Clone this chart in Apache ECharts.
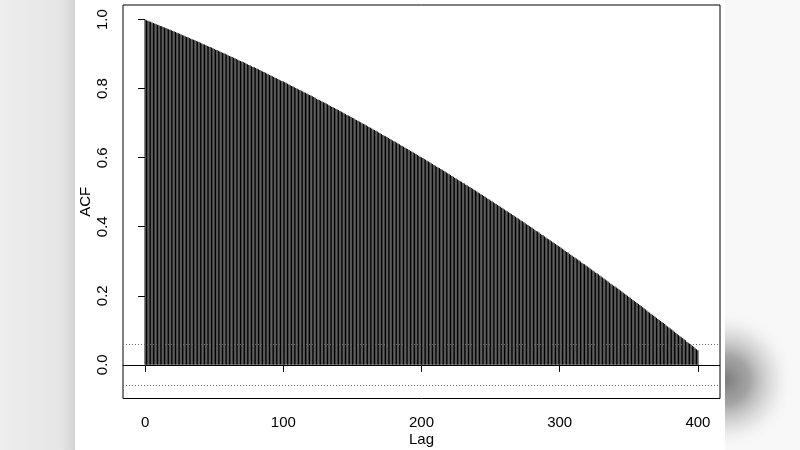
<!DOCTYPE html>
<html>
<head>
<meta charset="utf-8">
<script src="https://cdn.jsdelivr.net/npm/echarts@6/dist/echarts.min.js"></script>
<style>
html,body{margin:0;padding:0;background:#fff;}
#chart{width:800px;height:450px;}
</style>
</head>
<body>
<div id="chart"></div>
<script>
// ACF values by lag (lag = position in the list, starting at 0)
var acfLags0to99 = [
1.000,0.998,0.997,0.995,0.994,0.992,0.990,0.989,0.987,0.985,
0.984,0.982,0.981,0.979,0.977,0.976,0.974,0.972,0.971,0.969,
0.967,0.966,0.964,0.962,0.961,0.959,0.957,0.955,0.954,0.952,
0.950,0.949,0.947,0.945,0.943,0.942,0.940,0.938,0.937,0.935,
0.933,0.931,0.929,0.928,0.926,0.924,0.922,0.921,0.919,0.917,
0.915,0.913,0.912,0.910,0.908,0.906,0.904,0.903,0.901,0.899,
0.897,0.895,0.893,0.892,0.890,0.888,0.886,0.884,0.882,0.880,
0.879,0.877,0.875,0.873,0.871,0.869,0.867,0.865,0.863,0.862,
0.860,0.858,0.856,0.854,0.852,0.850,0.848,0.846,0.844,0.842,
0.840,0.838,0.836,0.834,0.832,0.830,0.828,0.826,0.824,0.822];
var acfLags100to199 = [
0.821,0.819,0.817,0.814,0.812,0.810,0.808,0.806,0.804,0.802,
0.800,0.798,0.796,0.794,0.792,0.790,0.788,0.786,0.784,0.782,
0.780,0.778,0.776,0.774,0.771,0.769,0.767,0.765,0.763,0.761,
0.759,0.757,0.755,0.752,0.750,0.748,0.746,0.744,0.742,0.740,
0.738,0.735,0.733,0.731,0.729,0.727,0.724,0.722,0.720,0.718,
0.716,0.714,0.711,0.709,0.707,0.705,0.703,0.700,0.698,0.696,
0.694,0.691,0.689,0.687,0.685,0.682,0.680,0.678,0.676,0.673,
0.671,0.669,0.666,0.664,0.662,0.660,0.657,0.655,0.653,0.650,
0.648,0.646,0.643,0.641,0.639,0.636,0.634,0.632,0.629,0.627,
0.625,0.622,0.620,0.618,0.615,0.613,0.611,0.608,0.606,0.603];
var acfLags200to299 = [
0.601,0.599,0.596,0.594,0.591,0.589,0.587,0.584,0.582,0.579,
0.577,0.574,0.572,0.570,0.567,0.565,0.562,0.560,0.557,0.555,
0.552,0.550,0.547,0.545,0.542,0.540,0.537,0.535,0.532,0.530,
0.527,0.525,0.522,0.520,0.517,0.515,0.512,0.510,0.507,0.505,
0.502,0.499,0.497,0.494,0.492,0.489,0.487,0.484,0.481,0.479,
0.476,0.474,0.471,0.468,0.466,0.463,0.461,0.458,0.455,0.453,
0.450,0.447,0.445,0.442,0.440,0.437,0.434,0.432,0.429,0.426,
0.424,0.421,0.418,0.416,0.413,0.410,0.407,0.405,0.402,0.399,
0.397,0.394,0.391,0.388,0.386,0.383,0.380,0.377,0.375,0.372,
0.369,0.366,0.364,0.361,0.358,0.355,0.353,0.350,0.347,0.344];
var acfLags300to400 = [
0.342,0.339,0.336,0.333,0.330,0.327,0.325,0.322,0.319,0.316,
0.313,0.311,0.308,0.305,0.302,0.299,0.296,0.293,0.291,0.288,
0.285,0.282,0.279,0.276,0.273,0.270,0.267,0.265,0.262,0.259,
0.256,0.253,0.250,0.247,0.244,0.241,0.238,0.235,0.232,0.229,
0.227,0.224,0.221,0.218,0.215,0.212,0.209,0.206,0.203,0.200,
0.197,0.194,0.191,0.188,0.185,0.182,0.179,0.176,0.173,0.170,
0.167,0.164,0.161,0.157,0.154,0.151,0.148,0.145,0.142,0.139,
0.136,0.133,0.130,0.127,0.124,0.121,0.118,0.114,0.111,0.108,
0.105,0.102,0.099,0.096,0.093,0.089,0.086,0.083,0.080,0.077,
0.074,0.071,0.067,0.064,0.061,0.058,0.055,0.052,0.048,0.045,
0.042];
var ciBounds = [0.0555, -0.0555];
var xTickValues = [0, 100, 200, 300, 400];
var yTickValues = [0, 0.2, 0.4, 0.6, 0.8, 1.0];
var xTitle = 'Lag';
var yTitle = 'ACF';

var acfValues = acfLags0to99.concat(acfLags100to199, acfLags200to299, acfLags300to400);
var barData = acfValues.map(function (v, lag) { return [lag, v]; });

var FONT = "'Liberation Sans', Arial, sans-serif";
var chart = echarts.init(document.getElementById('chart'), null, {renderer: 'canvas'});
chart.setOption({
  animation: false,
  backgroundColor: '#ffffff',
  graphic: [
    {type: 'rect', z: -10, silent: true, shape: {x: 0, y: 0, width: 75, height: 450},
     style: {fill: {type: 'linear', x: 0, y: 0, x2: 1, y2: 0, colorStops: [
       {offset: 0, color: '#ededed'}, {offset: 0.8, color: '#e6e6e6'}, {offset: 0.95, color: '#dadada'}, {offset: 1, color: '#d2d2d2'}]}}},
    {type: 'rect', z: -10, silent: true, shape: {x: 725, y: 0, width: 75, height: 450},
     style: {fill: '#f8f8f8'}},
    {type: 'rect', z: -9, silent: true, shape: {x: 725, y: 290, width: 75, height: 160},
     style: {fill: {type: 'radial', x: 725, y: 380, r: 70, global: true, colorStops: [
       {offset: 0, color: 'rgba(125,125,125,1)'}, {offset: 0.35, color: 'rgba(150,150,150,0.85)'},
       {offset: 0.7, color: 'rgba(205,205,205,0.5)'}, {offset: 1, color: 'rgba(248,248,248,0)'}]}}}
  ],
  grid: {left: 123, right: 80, top: 5, bottom: 51.5, outerBoundsMode: 'none', containLabel: false,
    show: true, borderColor: '#000', borderWidth: 1, backgroundColor: '#fff'},
  xAxis: {
    type: 'value', min: -16, max: 416,
    name: xTitle, nameLocation: 'middle', nameGap: 34, nameMoveOverlap: false,
    nameTextStyle: {fontFamily: FONT, fontSize: 15, color: '#000'},
    axisLine: {show: false},
    splitLine: {show: false},
    axisTick: {show: true, length: 7, lineStyle: {color: '#000'}, customValues: xTickValues},
    axisLabel: {fontFamily: FONT, fontSize: 15, color: '#000', margin: 17, customValues: xTickValues}
  },
  yAxis: {
    type: 'value', min: -0.0977, max: 1.0425,
    name: yTitle, nameLocation: 'middle', nameGap: 30, nameMoveOverlap: false,
    nameTextStyle: {fontFamily: FONT, fontSize: 15, color: '#000'},
    axisLine: {show: false},
    splitLine: {show: false},
    axisTick: {show: true, length: 7, lineStyle: {color: '#000'}, customValues: yTickValues},
    axisLabel: {fontFamily: FONT, fontSize: 15, color: '#000', margin: 13, rotate: 90,
      customValues: yTickValues, formatter: function (v) { return v.toFixed(1); }}
  },
  series: [{
    type: 'bar',
    data: barData,
    barWidth: 1.15,
    itemStyle: {color: '#000'},
    silent: true,
    markLine: {
      silent: true, symbol: 'none', label: {show: false},
      data: [
        {yAxis: 0, lineStyle: {color: '#000', width: 1, type: 'solid'}},
        {yAxis: ciBounds[0], lineStyle: {color: '#666', width: 1, type: [1, 2]}},
        {yAxis: ciBounds[1], lineStyle: {color: '#666', width: 1, type: [1, 2]}}
      ]
    }
  }]
});
</script>
</body>
</html>
